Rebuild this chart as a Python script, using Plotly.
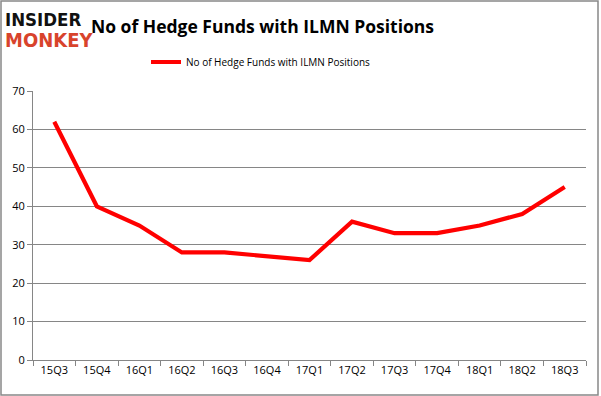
import plotly.graph_objects as go

quarters = ["15Q3", "15Q4", "16Q1", "16Q2", "16Q3", "16Q4", "17Q1",
            "17Q2", "17Q3", "17Q4", "18Q1", "18Q2", "18Q3"]
funds = [62, 40, 35, 28, 28, 27, 26, 36, 33, 33, 35, 38, 45]
series_name = "No of Hedge Funds with ILMN Positions"
y_ticks = [0, 10, 20, 30, 40, 50, 60, 70]

W, H = 601, 396
L, R, T, B = 33, 586, 91, 360

def px(x):
    return (x - L) / (R - L)

def py(y):
    return (B - y) / (B - T)

fig = go.Figure()
fig.add_trace(go.Scatter(
    x=quarters, y=funds, mode="lines", name=series_name,
    line=dict(color="#ff0000", width=4.2),
))

axis_font = dict(family="Open Sans, sans-serif", size=11, color="#000000")
fig.update_layout(
    width=W, height=H,
    margin=dict(l=L, r=W - R, t=T, b=H - B, autoexpand=False),
    paper_bgcolor="white", plot_bgcolor="white",
    showlegend=True,
    legend=dict(orientation="h", x=px(261), xanchor="center", y=py(62), yanchor="middle",
                font=dict(family="Open Sans, sans-serif", size=10, color="#000"),
                bgcolor="rgba(0,0,0,0)", itemwidth=30),
    xaxis=dict(type="category", showgrid=False, showline=True, linecolor="#868686",
               linewidth=1, ticks="outside", tickson="boundaries", ticklen=5,
               tickcolor="#868686", tickfont=axis_font, range=[-0.5, 12.5],
               automargin=False),
    yaxis=dict(range=[0, 70], tickvals=y_ticks, showgrid=True, gridcolor="#868686",
               gridwidth=1, showline=True, linecolor="#868686", linewidth=1,
               ticks="outside", ticklen=5, tickcolor="#868686", tickfont=axis_font,
               zeroline=False, automargin=False),
    annotations=[
        dict(text="<b>No of Hedge Funds with ILMN Positions</b>", x=px(262), y=py(26),
             xref="paper", yref="paper", xanchor="center", yanchor="middle",
             showarrow=False, font=dict(family="Open Sans, sans-serif", size=17.5, color="#000")),
        dict(text="<b>INSIDER</b>", x=px(3), y=py(19), xref="paper", yref="paper",
             xanchor="left", yanchor="middle", showarrow=False,
             font=dict(family="DejaVu Sans Condensed, DejaVu Sans", size=18.5, color="#111")),
        dict(text="<b>MONKEY</b>", x=px(3), y=py(40), xref="paper", yref="paper",
             xanchor="left", yanchor="middle", showarrow=False,
             font=dict(family="DejaVu Sans Condensed, DejaVu Sans", size=20, color="#d8432c")),
    ],
    shapes=[
        dict(type="rect", xref="paper", yref="paper", x0=px(1), x1=px(598),
             y0=py(395), y1=py(1), line=dict(color="#888888", width=1.5),
             fillcolor="rgba(0,0,0,0)", layer="below"),
    ],
)

fig.write_html("out.html", config={"displayModeBar": False},
               post_script="document.body.style.margin='0';document.body.style.overflow='hidden';")
